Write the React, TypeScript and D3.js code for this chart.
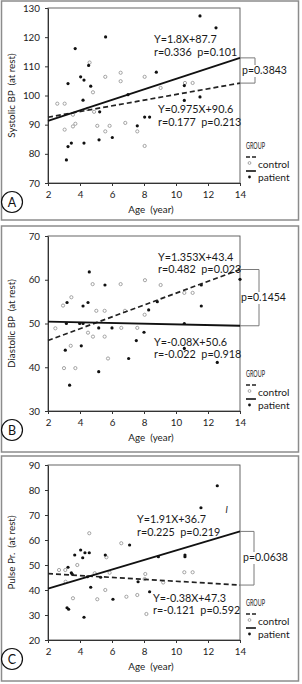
import React, { useEffect, useRef } from 'react'
import * as d3 from 'd3'

type Pt = [number, number]

// axis ticks
const ageTicks = [2, 4, 6, 8, 10, 12, 14]
const systolicTicks = [70, 80, 90, 100, 110, 120, 130]
const diastolicTicks = [30, 40, 50, 60, 70]
const pulseTicks = [20, 30, 40, 50, 60, 70, 80, 90]

// systolic BP (age, value)
const systolicPatient: Pt[] = [
  [11.5, 127.3], [12.5, 123.2], [3.7, 116.1], [5.6, 120.1], [4.54, 110.3], [4.04, 106.4],
  [4.25, 105.3], [3.25, 104.1], [4.67, 103.2], [4.19, 98.4], [7.0, 100.3], [8.77, 108],
  [5.23, 94.4], [8.04, 92.6], [8.35, 92.6], [7.58, 89.6], [6.02, 85.6], [5.19, 84.8],
  [4.25, 83.7], [3.46, 83.7], [3.25, 82.5], [3.15, 77.9], [10.52, 103.4], [10.52, 98.3],
  [11.5, 99.5],
]
const systolicControl: Pt[] = [
  [4.6, 111.3], [5.58, 106.4], [6.54, 107.8], [6.54, 104.9], [8.04, 106.4], [4.81, 101.1],
  [2.58, 97.2], [3.04, 97.2], [3.56, 93.4], [4.88, 94.4], [4.46, 95.4], [3.04, 88.3],
  [3.56, 89.4], [3.71, 90.3], [5.08, 89.6], [5.85, 89.6], [5.58, 87.7], [6.83, 90.6],
  [7.58, 87.7], [8.04, 82.7], [9.04, 102.6], [10.56, 104.3], [11.04, 104.3],
]

// diastolic BP
const diastolicPatient: Pt[] = [
  [4.58, 61.8], [3.19, 54.8], [4.19, 54], [4.5, 54.8], [5.56, 58.8], [3.15, 50], [3.98, 50],
  [4.19, 50], [5.17, 49], [6.0, 49], [8.29, 53.1], [8.83, 55], [8.0, 48], [7.52, 46.1],
  [3.08, 43.9], [4.08, 44.9], [7.04, 42], [5.17, 39], [3.35, 35.9], [10.52, 50], [10.52, 44.3],
  [11.58, 58.8], [11.58, 54], [12.58, 41.1], [14, 60.1],
]
const diastolicControl: Pt[] = [
  [3.46, 56], [2.94, 54.1], [5.02, 52.9], [5.54, 52.9], [8.04, 52], [2.46, 48.9], [6.58, 49],
  [7.58, 49], [4.5, 47.9], [4.81, 47], [5.54, 47], [3.42, 44.9], [5.75, 42], [3.0, 39.8],
  [3.71, 39.8], [4.79, 59], [6.54, 59], [8.06, 59.9], [9.04, 58.8], [10.52, 57], [11.04, 57],
  [6.81, 52.9],
]

// pulse pressure
const pulsePatient: Pt[] = [
  [12.58, 81.7], [11.56, 72.9], [3.67, 54], [4.04, 56], [4.17, 52.9], [4.31, 54.9], [4.58, 54.9],
  [5.58, 54], [7.1, 58], [3.25, 49.1], [3.46, 46.9], [3.52, 46.3], [4.46, 45.3], [5.29, 45.1],
  [4.67, 41.1], [6.06, 36.3], [7.63, 43.3], [8.35, 39.3], [3.19, 32.9], [3.29, 32.3],
  [4.25, 29.1], [8.9, 53.3], [10.56, 54], [10.56, 53.3],
]
const pulseControl: Pt[] = [
  [4.58, 62.7], [6.58, 58.7], [5.65, 53.1], [3.83, 50], [2.69, 48], [3.08, 48], [3.1, 43.3],
  [4.92, 46.7], [5.85, 46.9], [8.08, 46.4], [8.04, 44.4], [5.58, 40], [3.56, 36.7], [5.08, 36.3],
  [6.9, 37.3], [7.58, 38], [8.15, 30.4], [9.2, 43], [10.52, 47.1], [11.04, 47.1],
]

// regression fits: [slope, intercept]
const systolicFit = { patient: [1.8, 87.7], control: [0.975, 90.6] }
const diastolicFit = { patient: [-0.08, 50.6], control: [1.353, 43.4] }
const pulseFit = { patient: [1.91, 36.7], control: [-0.38, 47.3] }

const systolicText = {
  patient: ['Y=1.8X+87.7', 'r=0.336  p=0.101'],
  control: ['Y=0.975X+90.6', 'r=0.177  p=0.213'],
  diff: 'p=0.3843',
}
const diastolicText = {
  patient: ['Y=-0.08X+50.6', 'r=-0.022  p=0.918'],
  control: ['Y=1.353X+43.4', 'r=0.482  p=0.023'],
  diff: 'p=0.1454',
}
const pulseText = {
  patient: ['Y=1.91X+36.7', 'r=0.225  p=0.219'],
  control: ['Y=-0.38X+47.3', 'r=-0.121  p=0.592'],
  diff: 'p=0.0638',
}

const FONT = 'Lato, "Open Sans", sans-serif'
const X0 = 48
const X1 = 240
const PH = 175

const panels = [
  {
    letter: 'A', title: 'Systolic BP  (at rest)', domain: [70, 130], ticks: systolicTicks,
    patient: systolicPatient, control: systolicControl, fit: systolicFit, text: systolicText,
    top: 8, box: [1, 220], bracketX: 255, diffPos: [242, 74],
    patientLabel: [154, 43], controlLabel: [158, 113.3],
  },
  {
    letter: 'B', title: 'Diastolic BP  (at rest)', domain: [30, 70], ticks: diastolicTicks,
    patient: diastolicPatient, control: diastolicControl, fit: diastolicFit, text: diastolicText,
    top: 236, box: [226, 452], bracketX: 259, diffPos: [241, 301],
    patientLabel: [154, 345.7], controlLabel: [158, 260.7],
  },
  {
    letter: 'C', title: 'Pulse Pr.  (at rest)', domain: [20, 90], ticks: pulseTicks,
    patient: pulsePatient, control: pulseControl, fit: pulseFit, text: pulseText,
    top: 465, box: [456, 681], bracketX: 254, diffPos: [243, 561],
    patientLabel: [137, 523.3], controlLabel: [153, 601.7],
  },
]

const App = () => {
  const ref = useRef<SVGSVGElement>(null)

  useEffect(() => {
    const svg = d3.select(ref.current)
    svg.selectAll('*').remove()

    const x = d3.scaleLinear().domain([2, 14]).range([X0, X1])

    panels.forEach((p) => {
      const bottom = p.top + PH
      const y = d3.scaleLinear().domain(p.domain).range([bottom, p.top])
      const g = svg.append('g').attr('font-family', FONT)

      // panel border
      g.append('rect')
        .attr('x', 1.5).attr('y', p.box[0])
        .attr('width', 297).attr('height', p.box[1] - p.box[0])
        .attr('fill', 'none').attr('stroke', '#8c8c8c').attr('stroke-width', 1.5)

      // plot frame
      g.append('rect')
        .attr('x', X0).attr('y', p.top)
        .attr('width', X1 - X0).attr('height', PH)
        .attr('fill', 'none').attr('stroke', '#555').attr('stroke-width', 0.9)

      const yAxis = g.append('g')
        .attr('transform', `translate(${X0},0)`)
        .call(d3.axisLeft(y).tickValues(p.ticks).tickSize(3).tickSizeOuter(0).tickPadding(5))
      const xAxis = g.append('g')
        .attr('transform', `translate(0,${bottom})`)
        .call(d3.axisBottom(x).tickValues(ageTicks).tickSize(3).tickSizeOuter(0).tickPadding(5))
      ;[yAxis, xAxis].forEach((a) => {
        a.select('.domain').attr('stroke', '#333')
        a.selectAll('line').attr('stroke', '#333')
        a.selectAll('text')
          .attr('font-family', FONT).attr('font-size', 9.8).attr('fill', '#222')
      })

      // axis titles
      g.append('text')
        .attr('transform', `translate(15,${p.top + PH / 2}) rotate(-90)`)
        .attr('text-anchor', 'middle').attr('font-size', 9.8).attr('fill', '#222')
        .style('white-space', 'pre')
        .text(p.title)
      g.append('text')
        .attr('x', 151).attr('y', bottom + 29.5)
        .attr('text-anchor', 'middle').attr('font-size', 9.8).attr('fill', '#222')
        .style('white-space', 'pre')
        .text('Age  (year)')

      // points
      g.selectAll('.ctl').data(p.control).enter().append('circle')
        .attr('cx', (d) => x(d[0])).attr('cy', (d) => y(d[1])).attr('r', 1.6)
        .attr('fill', '#fff').attr('stroke', '#9a9a9a').attr('stroke-width', 0.9)
      g.selectAll('.pat').data(p.patient).enter().append('circle')
        .attr('cx', (d) => x(d[0])).attr('cy', (d) => y(d[1])).attr('r', 1.6)
        .attr('fill', '#111')

      // regression lines
      const fitLine = (f: number[]) =>
        d3.line<number>().x((a) => x(a)).y((a) => y(f[0] * a + f[1]))([2, 14])
      g.append('path').attr('d', fitLine(p.fit.control))
        .attr('fill', 'none').attr('stroke', '#222').attr('stroke-width', 1.7)
        .attr('stroke-dasharray', '5,3')
      g.append('path').attr('d', fitLine(p.fit.patient))
        .attr('fill', 'none').attr('stroke', '#111').attr('stroke-width', 1.9)

      // fit labels
      const label = (pos: number[], lines: string[]) => {
        lines.forEach((s, i) => {
          g.append('text').attr('x', pos[0]).attr('y', pos[1] + i * 12.7)
            .attr('font-size', 10.8).attr('fill', '#1a1a1a')
            .style('white-space', 'pre').text(s)
        })
      }
      label(p.patientLabel, p.text.patient)
      label(p.controlLabel, p.text.control)

      // bracket between line ends
      const yA = y(p.fit.patient[0] * 14 + p.fit.patient[1])
      const yB = y(p.fit.control[0] * 14 + p.fit.control[1])
      const yTop = Math.min(yA, yB)
      const yBot = Math.max(yA, yB)
      const bx = p.bracketX
      const ty = p.diffPos[1]
      const br = d3.path()
      br.moveTo(X1, yTop); br.lineTo(bx, yTop); br.lineTo(bx, ty - 9)
      br.moveTo(bx, ty + 3); br.lineTo(bx, yBot); br.lineTo(X1, yBot)
      g.append('path').attr('d', br.toString())
        .attr('fill', 'none').attr('stroke', '#7a7a7a').attr('stroke-width', 1)
      g.append('text').attr('x', p.diffPos[0]).attr('y', ty)
        .attr('font-size', 10.5).attr('fill', '#1a1a1a').text(p.text.diff)

      // legend
      const lt = p.top + 141
      g.append('text').attr('x', 246).attr('y', lt)
        .attr('font-size', 9).attr('fill', '#222')
        .attr('textLength', 19).attr('lengthAdjust', 'spacingAndGlyphs').text('GROUP')
      g.append('line').attr('x1', 246).attr('x2', 258).attr('y1', lt + 8).attr('y2', lt + 8)
        .attr('stroke', '#222').attr('stroke-width', 1.5).attr('stroke-dasharray', '4,2')
      g.append('circle').attr('cx', 249.5).attr('cy', lt + 14).attr('r', 1.4)
        .attr('fill', '#fff').attr('stroke', '#9a9a9a').attr('stroke-width', 0.9)
      g.append('text').attr('x', 258).attr('y', lt + 18.5)
        .attr('font-size', 10.2).attr('fill', '#1a1a1a').text('control')
      g.append('line').attr('x1', 246).attr('x2', 256).attr('y1', lt + 22).attr('y2', lt + 22)
        .attr('stroke', '#111').attr('stroke-width', 1.6)
      g.append('circle').attr('cx', 249.5).attr('cy', lt + 28).attr('r', 1.4).attr('fill', '#111')
      g.append('text').attr('x', 258).attr('y', lt + 31.5)
        .attr('font-size', 10.2).attr('fill', '#1a1a1a').text('patient')

      // panel letter
      g.append('circle').attr('cx', 12).attr('cy', bottom + 19).attr('r', 10.5)
        .attr('fill', '#fff').attr('stroke', '#111').attr('stroke-width', 1.2)
      g.append('text').attr('x', 12).attr('y', bottom + 23.5)
        .attr('text-anchor', 'middle').attr('font-size', 12.5).attr('fill', '#111')
        .text(p.letter)
    })

    // stray mark in the pulse panel
    const yC = d3.scaleLinear().domain([20, 90]).range([465 + PH, 465])
    svg.append('text').attr('x', x(13.1)).attr('y', yC(71))
      .attr('font-family', FONT).attr('font-style', 'italic')
      .attr('font-size', 10).attr('fill', '#222').text('l')
  }, [])

  return (
    <svg
      ref={ref}
      width={302}
      height={684}
      style={{ position: 'absolute', left: 0, top: 0, background: '#fff' }}
    />
  )
}

export default App
